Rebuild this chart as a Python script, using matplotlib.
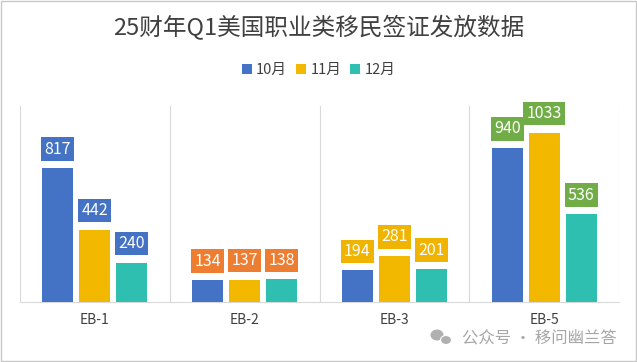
import numpy as np
import matplotlib.pyplot as plt
from matplotlib.patches import Rectangle, Ellipse

plt.rcParams['font.family'] = ['Noto Sans CJK SC', 'DejaVu Sans']

categories = ['EB-1', 'EB-2', 'EB-3', 'EB-5']
months = ['10月', '11月', '12月']
oct_vals = [817, 134, 194, 940]
nov_vals = [442, 137, 281, 1033]
dec_vals = [240, 138, 201, 536]

bar_colors = ['#4472C4', '#F2B800', '#2EBFB0']
label_colors = ['#4472C4', '#ED7D31', '#F0B400', '#70AD47']

W, H = 637, 362
fig = plt.figure(figsize=(W / 100, H / 100), dpi=100)
ax = fig.add_axes([20 / W, 60 / H, 599 / W, 196 / H])

x = np.arange(len(categories))
bw = 0.207
step = 0.247
series = [oct_vals, nov_vals, dec_vals]
for i, vals in enumerate(series):
    pos = x + (i - 1) * step
    bars = ax.bar(pos, vals, bw, color=bar_colors[i], label=months[i], zorder=3)
    for j, (b, v) in enumerate(zip(bars, vals)):
        ax.annotate(str(v), (b.get_x() + b.get_width() / 2, v),
                    xytext=(0, 7.5), textcoords='offset points',
                    ha='center', va='bottom', color='white', fontsize=11.5,
                    bbox=dict(boxstyle='square,pad=0.2', fc=label_colors[j], ec='none'),
                    annotation_clip=False, zorder=4)

ax.set_xlim(-0.5, 3.5)
ax.set_ylim(0, 1195)
for xv in np.arange(-0.5, 3.6, 1):
    ax.axvline(xv, color='#D9D9D9', lw=0.8, zorder=1)
for s in ['top', 'left', 'right']:
    ax.spines[s].set_visible(False)
ax.spines['bottom'].set_color('#D9D9D9')
ax.set_yticks([])
ax.set_xticks(x)
ax.set_xticklabels(categories, fontsize=10, color='#404040')
ax.tick_params(axis='x', length=0, pad=8)

fig.text(0.5, 1 - 28 / H, '25财年Q1美国职业类移民签证发放数据', ha='center', va='center',
         fontsize=17, color='#404040')
fig.legend(loc='center', bbox_to_anchor=(0.5, 1 - 70 / H), ncol=3, frameon=False,
           fontsize=10.5, handlelength=0.7, handleheight=0.7, handletextpad=0.3,
           columnspacing=0.6, labelcolor='#404040')

# watermark
fig.text(462 / W, 1 - 338 / H, '公众号 · 移问幽兰答', ha='left', va='center',
         fontsize=11.8, color='#A6A6A6')
fig.patches.append(Ellipse((437 / W, 1 - 335 / H), 13 / W, 11 / H,
                           transform=fig.transFigure, fc='#B0B0B0', ec='none'))
fig.patches.append(Ellipse((446 / W, 1 - 340 / H), 11 / W, 9 / H,
                           transform=fig.transFigure, fc='#B0B0B0', ec='white', lw=0.8))

fig.patches.append(Rectangle((0.002, 0.003), 0.996, 0.994, transform=fig.transFigure,
                             fill=False, ec='#C8C8C8', lw=1))

fig.savefig('out.png', dpi=100)
